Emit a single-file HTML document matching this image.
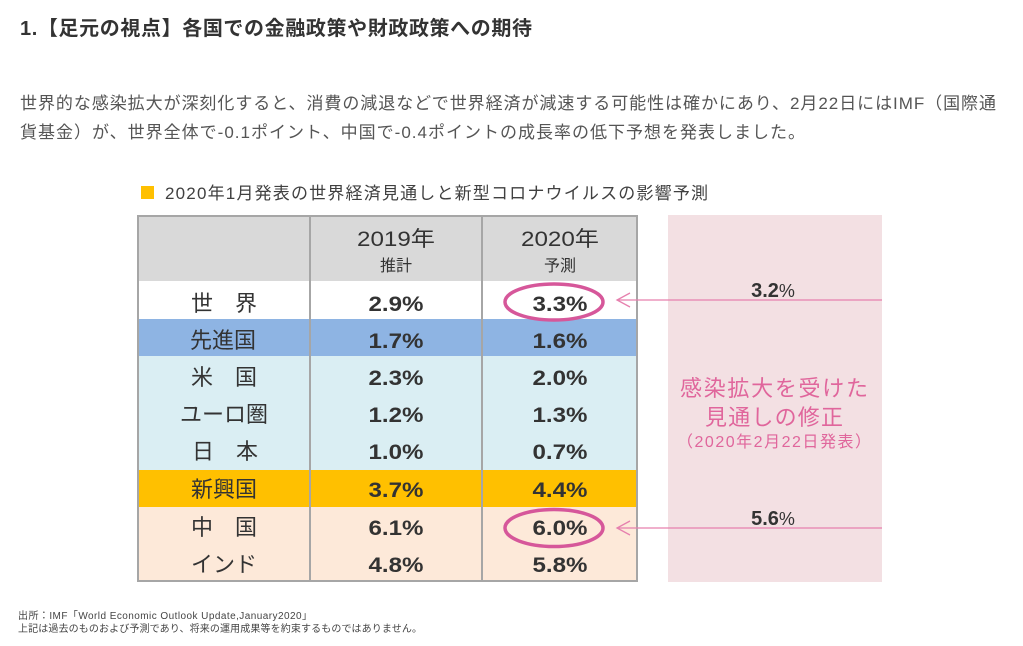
<!DOCTYPE html>
<html>
<head>
<meta charset="utf-8">
<style>
html,body{margin:0;padding:0;background:#fff;}
svg{display:block;}
text{font-family:"Liberation Sans","Noto Sans CJK JP",sans-serif;}
</style>
</head>
<body>
<svg width="1023" height="646" viewBox="0 0 1023 646" xmlns="http://www.w3.org/2000/svg">
  <rect x="0" y="0" width="1023" height="646" fill="#ffffff"/>

  <!-- Title -->
  <text x="20" y="35" font-size="20" font-weight="bold" fill="#333" textLength="512" lengthAdjust="spacing">1.【足元の視点】各国での金融政策や財政政策への期待</text>

  <!-- Paragraph -->
  <text x="20" y="109" font-size="17" fill="#555" textLength="976" lengthAdjust="spacing">世界的な感染拡大が深刻化すると、消費の減退などで世界経済が減速する可能性は確かにあり、2月22日にはIMF（国際通</text>
  <text x="20" y="138" font-size="17" fill="#555" textLength="785" lengthAdjust="spacing">貨基金）が、世界全体で-0.1ポイント、中国で-0.4ポイントの成長率の低下予想を発表しました。</text>

  <!-- Legend -->
  <rect x="141" y="186" width="13" height="13" fill="#FFC000"/>
  <text x="165" y="199" font-size="17" fill="#404040" textLength="543" lengthAdjust="spacing">2020年1月発表の世界経済見通しと新型コロナウイルスの影響予測</text>

  <!-- Table backgrounds -->
  <rect x="137" y="215" width="501" height="66" fill="#D9D9D9"/>
  <rect x="137" y="281" width="501" height="38" fill="#FFFFFF"/>
  <rect x="137" y="319" width="501" height="37" fill="#8EB4E3"/>
  <rect x="137" y="356" width="501" height="114" fill="#DAEEF3"/>
  <rect x="137" y="470" width="501" height="37" fill="#FFC000"/>
  <rect x="137" y="507" width="501" height="75" fill="#FDE9D9"/>

  <!-- Table borders -->
  <rect x="138" y="216" width="499" height="365" fill="none" stroke="#A6A6A6" stroke-width="2"/>
  <line x1="310" y1="215" x2="310" y2="582" stroke="#A6A6A6" stroke-width="2"/>
  <line x1="482" y1="215" x2="482" y2="582" stroke="#A6A6A6" stroke-width="2"/>

  <!-- Header -->
  <text x="396" y="246" font-size="21" fill="#333" text-anchor="middle" textLength="78" lengthAdjust="spacingAndGlyphs">2019年</text>
  <text x="396" y="271" font-size="16" fill="#333" text-anchor="middle">推計</text>
  <text x="560" y="246" font-size="21" fill="#333" text-anchor="middle" textLength="78" lengthAdjust="spacingAndGlyphs">2020年</text>
  <text x="560" y="271" font-size="16" fill="#333" text-anchor="middle">予測</text>

  <!-- Row labels -->
  <g font-size="22" fill="#333" text-anchor="middle">
    <text x="224" y="311">世　界</text>
    <text x="223" y="348">先進国</text>
    <text x="224" y="385">米　国</text>
    <text x="224" y="422" textLength="88" lengthAdjust="spacingAndGlyphs">ユーロ圏</text>
    <text x="225" y="459">日　本</text>
    <text x="224" y="497">新興国</text>
    <text x="224" y="535">中　国</text>
    <text x="224" y="572">インド</text>
  </g>

  <!-- Values -->
  <g font-size="21" font-weight="bold" fill="#333" text-anchor="middle">
    <text x="396" y="311" textLength="55" lengthAdjust="spacingAndGlyphs">2.9%</text>
    <text x="560" y="311" textLength="55" lengthAdjust="spacingAndGlyphs">3.3%</text>
    <text x="396" y="348" textLength="55" lengthAdjust="spacingAndGlyphs">1.7%</text>
    <text x="560" y="348" textLength="55" lengthAdjust="spacingAndGlyphs">1.6%</text>
    <text x="396" y="385" textLength="55" lengthAdjust="spacingAndGlyphs">2.3%</text>
    <text x="560" y="385" textLength="55" lengthAdjust="spacingAndGlyphs">2.0%</text>
    <text x="396" y="422" textLength="55" lengthAdjust="spacingAndGlyphs">1.2%</text>
    <text x="560" y="422" textLength="55" lengthAdjust="spacingAndGlyphs">1.3%</text>
    <text x="396" y="459" textLength="55" lengthAdjust="spacingAndGlyphs">1.0%</text>
    <text x="560" y="459" textLength="55" lengthAdjust="spacingAndGlyphs">0.7%</text>
    <text x="396" y="497" textLength="55" lengthAdjust="spacingAndGlyphs">3.7%</text>
    <text x="560" y="497" textLength="55" lengthAdjust="spacingAndGlyphs">4.4%</text>
    <text x="396" y="535" textLength="55" lengthAdjust="spacingAndGlyphs">6.1%</text>
    <text x="560" y="535" textLength="55" lengthAdjust="spacingAndGlyphs">6.0%</text>
    <text x="396" y="572" textLength="55" lengthAdjust="spacingAndGlyphs">4.8%</text>
    <text x="560" y="572" textLength="55" lengthAdjust="spacingAndGlyphs">5.8%</text>
  </g>

  <!-- Ellipses -->
  <ellipse cx="554" cy="302" rx="49" ry="18" fill="none" stroke="#D6579A" stroke-width="3.5"/>
  <ellipse cx="554" cy="528" rx="49" ry="18.5" fill="none" stroke="#D6579A" stroke-width="3.5"/>

  <!-- Pink box -->
  <rect x="668" y="215" width="214" height="367" fill="#F3E0E3"/>

  <!-- Arrows -->
  <g stroke="#E680AE" stroke-width="1.3" fill="none">
    <line x1="617" y1="300" x2="882" y2="300"/>
    <polyline points="630,293 617,300 630,307"/>
    <line x1="617" y1="528" x2="882" y2="528"/>
    <polyline points="630,521 617,528 630,535"/>
  </g>

  <!-- Revised values -->
  <text x="773" y="297" font-size="20" font-weight="bold" fill="#333" text-anchor="middle">3.2<tspan font-weight="normal" font-size="18">%</tspan></text>
  <text x="773" y="525" font-size="20" font-weight="bold" fill="#333" text-anchor="middle">5.6<tspan font-weight="normal" font-size="18">%</tspan></text>

  <!-- Pink text -->
  <text x="774" y="396" font-size="22" fill="#E0669C" text-anchor="middle" textLength="188" lengthAdjust="spacing">感染拡大を受けた</text>
  <text x="774" y="425" font-size="22" fill="#E0669C" text-anchor="middle" textLength="138" lengthAdjust="spacing">見通しの修正</text>
  <text x="774" y="447" font-size="16" fill="#E0669C" text-anchor="middle" textLength="194" lengthAdjust="spacing">（2020年2月22日発表）</text>

  <!-- Footnotes -->
  <text x="18" y="619" font-size="10" fill="#444" textLength="294" lengthAdjust="spacing">出所：IMF「World Economic Outlook Update,January2020」</text>
  <text x="18" y="632" font-size="10" fill="#444" textLength="404" lengthAdjust="spacing">上記は過去のものおよび予測であり、将来の運用成果等を約束するものではありません。</text>
</svg>
</body>
</html>
